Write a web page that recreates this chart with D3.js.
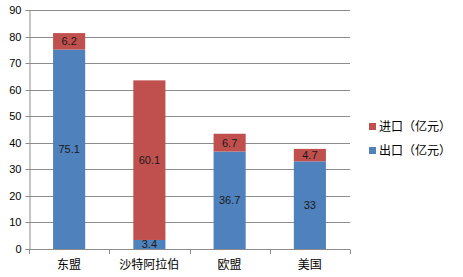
<!DOCTYPE html>
<html>
<head>
<meta charset="utf-8">
<script src="https://cdn.jsdelivr.net/npm/d3@7"></script>
<style>
  body { margin: 0; background: #fff; }
  text { font-family: "Liberation Sans", "Noto Sans CJK SC", sans-serif; }
</style>
</head>
<body>
<div class="container"></div>
<script>
const categories = ["东盟", "沙特阿拉伯", "欧盟", "美国"];
const exports_ = [75.1, 3.4, 36.7, 33];
const imports_ = [6.2, 60.1, 6.7, 4.7];
const yTicks = [0, 10, 20, 30, 40, 50, 60, 70, 80, 90];
const seriesNames = ["进口（亿元）", "出口（亿元）"];

const w = 463, h = 277;
const margin = { top: 10, bottom: 28, left: 29, right: 113 };
const blue = "#4f81bd", red = "#c0504d";

const rows = categories.map((c, i) => ({ cat: c, out: exports_[i], inn: imports_[i] }));

const svg = d3.select(".container")
  .append("svg")
  .attr("width", w)
  .attr("height", h);

const xScale = d3.scaleBand()
  .domain(categories)
  .range([margin.left, w - margin.right])
  .paddingInner(0.6)
  .paddingOuter(0.3);

const yScale = d3.scaleLinear()
  .domain([0, 90])
  .range([h - margin.bottom, margin.top]);

// gridlines
svg.append("g")
  .selectAll("line")
  .data(yTicks)
  .join("line")
  .attr("x1", margin.left)
  .attr("x2", w - margin.right)
  .attr("y1", d => Math.round(yScale(d)) + 0.5)
  .attr("y2", d => Math.round(yScale(d)) + 0.5)
  .attr("stroke", "#8c8c8c")
  .attr("stroke-width", 1);

// y axis
const yAxis = svg.append("g")
  .attr("transform", `translate(${margin.left + 0.5}, 0)`)
  .call(d3.axisLeft(yScale).tickValues(yTicks).tickSize(4).tickPadding(4));
yAxis.select(".domain").attr("stroke", "#8c8c8c");
yAxis.selectAll(".tick line").attr("stroke", "#8c8c8c");
yAxis.selectAll(".tick text").attr("font-size", 11).attr("fill", "#000");
yAxis.selectAll(".tick").attr("transform", d => `translate(0, ${Math.round(yScale(d)) + 0.5})`);

// x axis: ticks on the category boundaries
const x0 = yScale(0);
const step = (w - margin.right - margin.left) / categories.length;
svg.append("g")
  .selectAll("line")
  .data(d3.range(categories.length + 1))
  .join("line")
  .attr("x1", i => Math.round(margin.left + i * step) + 0.5)
  .attr("x2", i => Math.round(margin.left + i * step) + 0.5)
  .attr("y1", Math.round(x0) + 0.5)
  .attr("y2", Math.round(x0) + 5)
  .attr("stroke", "#8c8c8c");

svg.append("g")
  .selectAll("text")
  .data(categories)
  .join("text")
  .attr("x", d => xScale(d) + xScale.bandwidth() / 2)
  .attr("y", x0 + 20)
  .attr("text-anchor", "middle")
  .attr("font-size", 12)
  .attr("font-family", "Noto Sans CJK SC")
  .text(d => d);

// stacked bars
const bars = svg.append("g");
bars.selectAll("rect.out")
  .data(rows)
  .join("rect")
  .attr("class", "out")
  .attr("x", d => xScale(d.cat))
  .attr("width", xScale.bandwidth())
  .attr("y", d => yScale(d.out))
  .attr("height", d => yScale(0) - yScale(d.out))
  .attr("fill", blue);

bars.selectAll("rect.inn")
  .data(rows)
  .join("rect")
  .attr("class", "inn")
  .attr("x", d => xScale(d.cat))
  .attr("width", xScale.bandwidth())
  .attr("y", d => yScale(d.out + d.inn))
  .attr("height", d => yScale(d.out) - yScale(d.out + d.inn))
  .attr("fill", red);

// value labels
const labels = svg.append("g")
  .attr("font-size", 11)
  .attr("text-anchor", "middle")
  .attr("fill", "#1a1a1a");
labels.selectAll("text.out")
  .data(rows)
  .join("text")
  .attr("class", "out")
  .attr("x", d => xScale(d.cat) + xScale.bandwidth() / 2)
  .attr("y", d => yScale(d.out / 2) + 4)
  .text(d => d.out);
labels.selectAll("text.inn")
  .data(rows)
  .join("text")
  .attr("class", "inn")
  .attr("x", d => xScale(d.cat) + xScale.bandwidth() / 2)
  .attr("y", d => yScale(d.out + d.inn / 2) + 4)
  .text(d => d.inn);

// legend
const legend = svg.append("g")
  .attr("transform", "translate(369, 123)");
legend.selectAll("rect")
  .data(seriesNames)
  .join("rect")
  .attr("x", 0)
  .attr("y", (d, i) => i * 24)
  .attr("width", 7)
  .attr("height", 7)
  .attr("fill", (d, i) => i === 0 ? red : blue);
legend.selectAll("text")
  .data(seriesNames)
  .join("text")
  .attr("x", 10)
  .attr("y", (d, i) => i * 24 + 8)
  .attr("font-size", 12)
  .attr("font-family", "Noto Sans CJK SC")
  .text(d => d);
</script>
</body>
</html>
